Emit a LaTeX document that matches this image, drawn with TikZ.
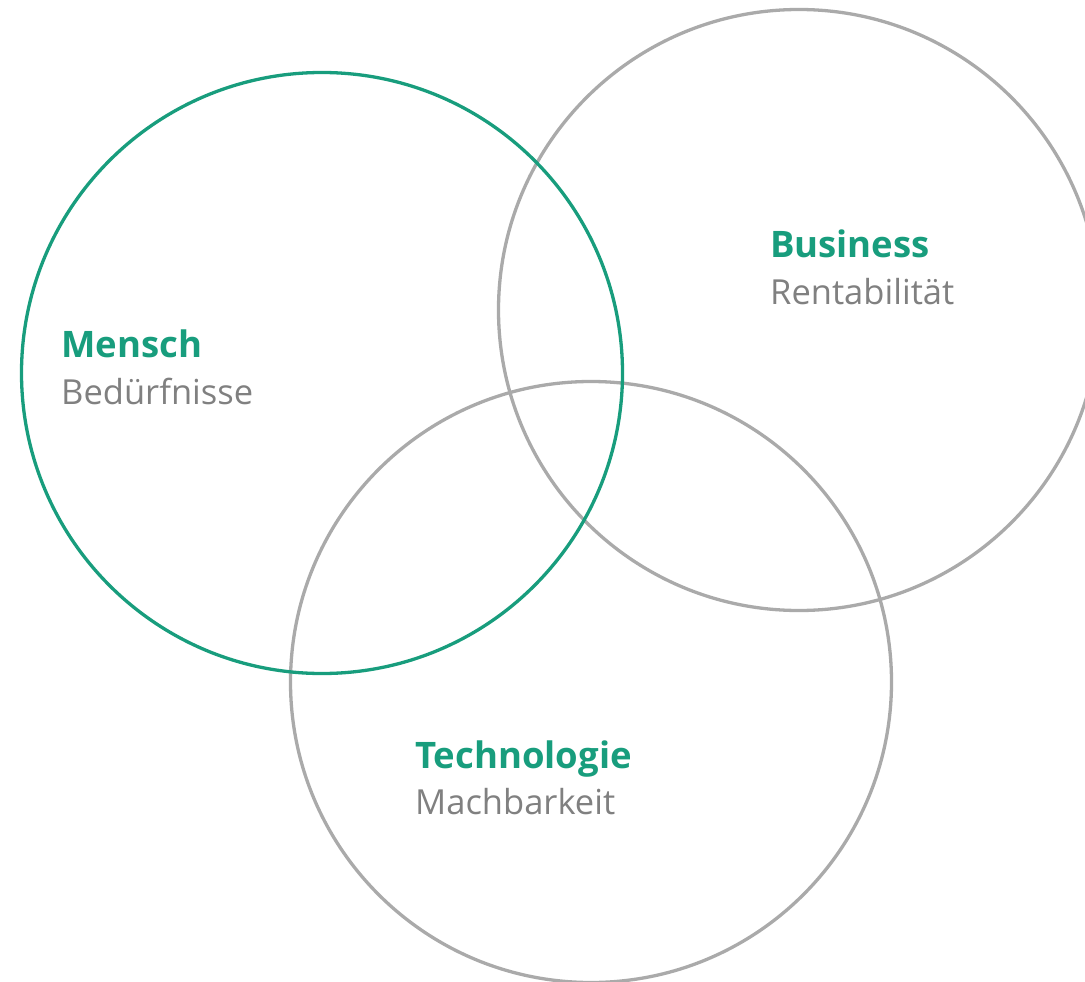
\documentclass[tikz,border=0pt]{standalone}
\usepackage{fontspec}
\setmainfont{Open Sans}
\definecolor{vgreen}{RGB}{24,157,125}
\definecolor{vgray}{RGB}{170,170,170}
\definecolor{tgray}{RGB}{128,128,128}
\tikzset{
  ring/.style={line width=3.3pt},
  title/.style={anchor=base west, inner sep=0pt, text=vgreen, font=\fontsize{36.5}{40}\selectfont\bfseries},
  sub/.style={anchor=base west, inner sep=0pt, text=tgray, font=\fontsize{34.5}{40}\selectfont},
}
\begin{document}
\begin{tikzpicture}[x=1pt,y=-1pt]
\useasboundingbox (0,0) rectangle (1085,982);
\clip (0,0) rectangle (1085,982);
\draw[ring, vgray] (799,310) circle (300.5);
\draw[ring, vgray] (591,682) circle (300.5);
\draw[ring, vgreen] (322,373) circle (300.5);
\node[title] (mt) at (61,357) {Mensch};
\node[sub] (ms) at (61,404) {Bedürfnisse};
\node[title] (bt) at (770,257) {Business};
\node[sub] (bs) at (770,304) {Rentabilität};
\node[title] (tt) at (415,768) {Technologie};
\node[sub] (ts) at (415,814) {Machbarkeit};
\end{tikzpicture}
\end{document}
